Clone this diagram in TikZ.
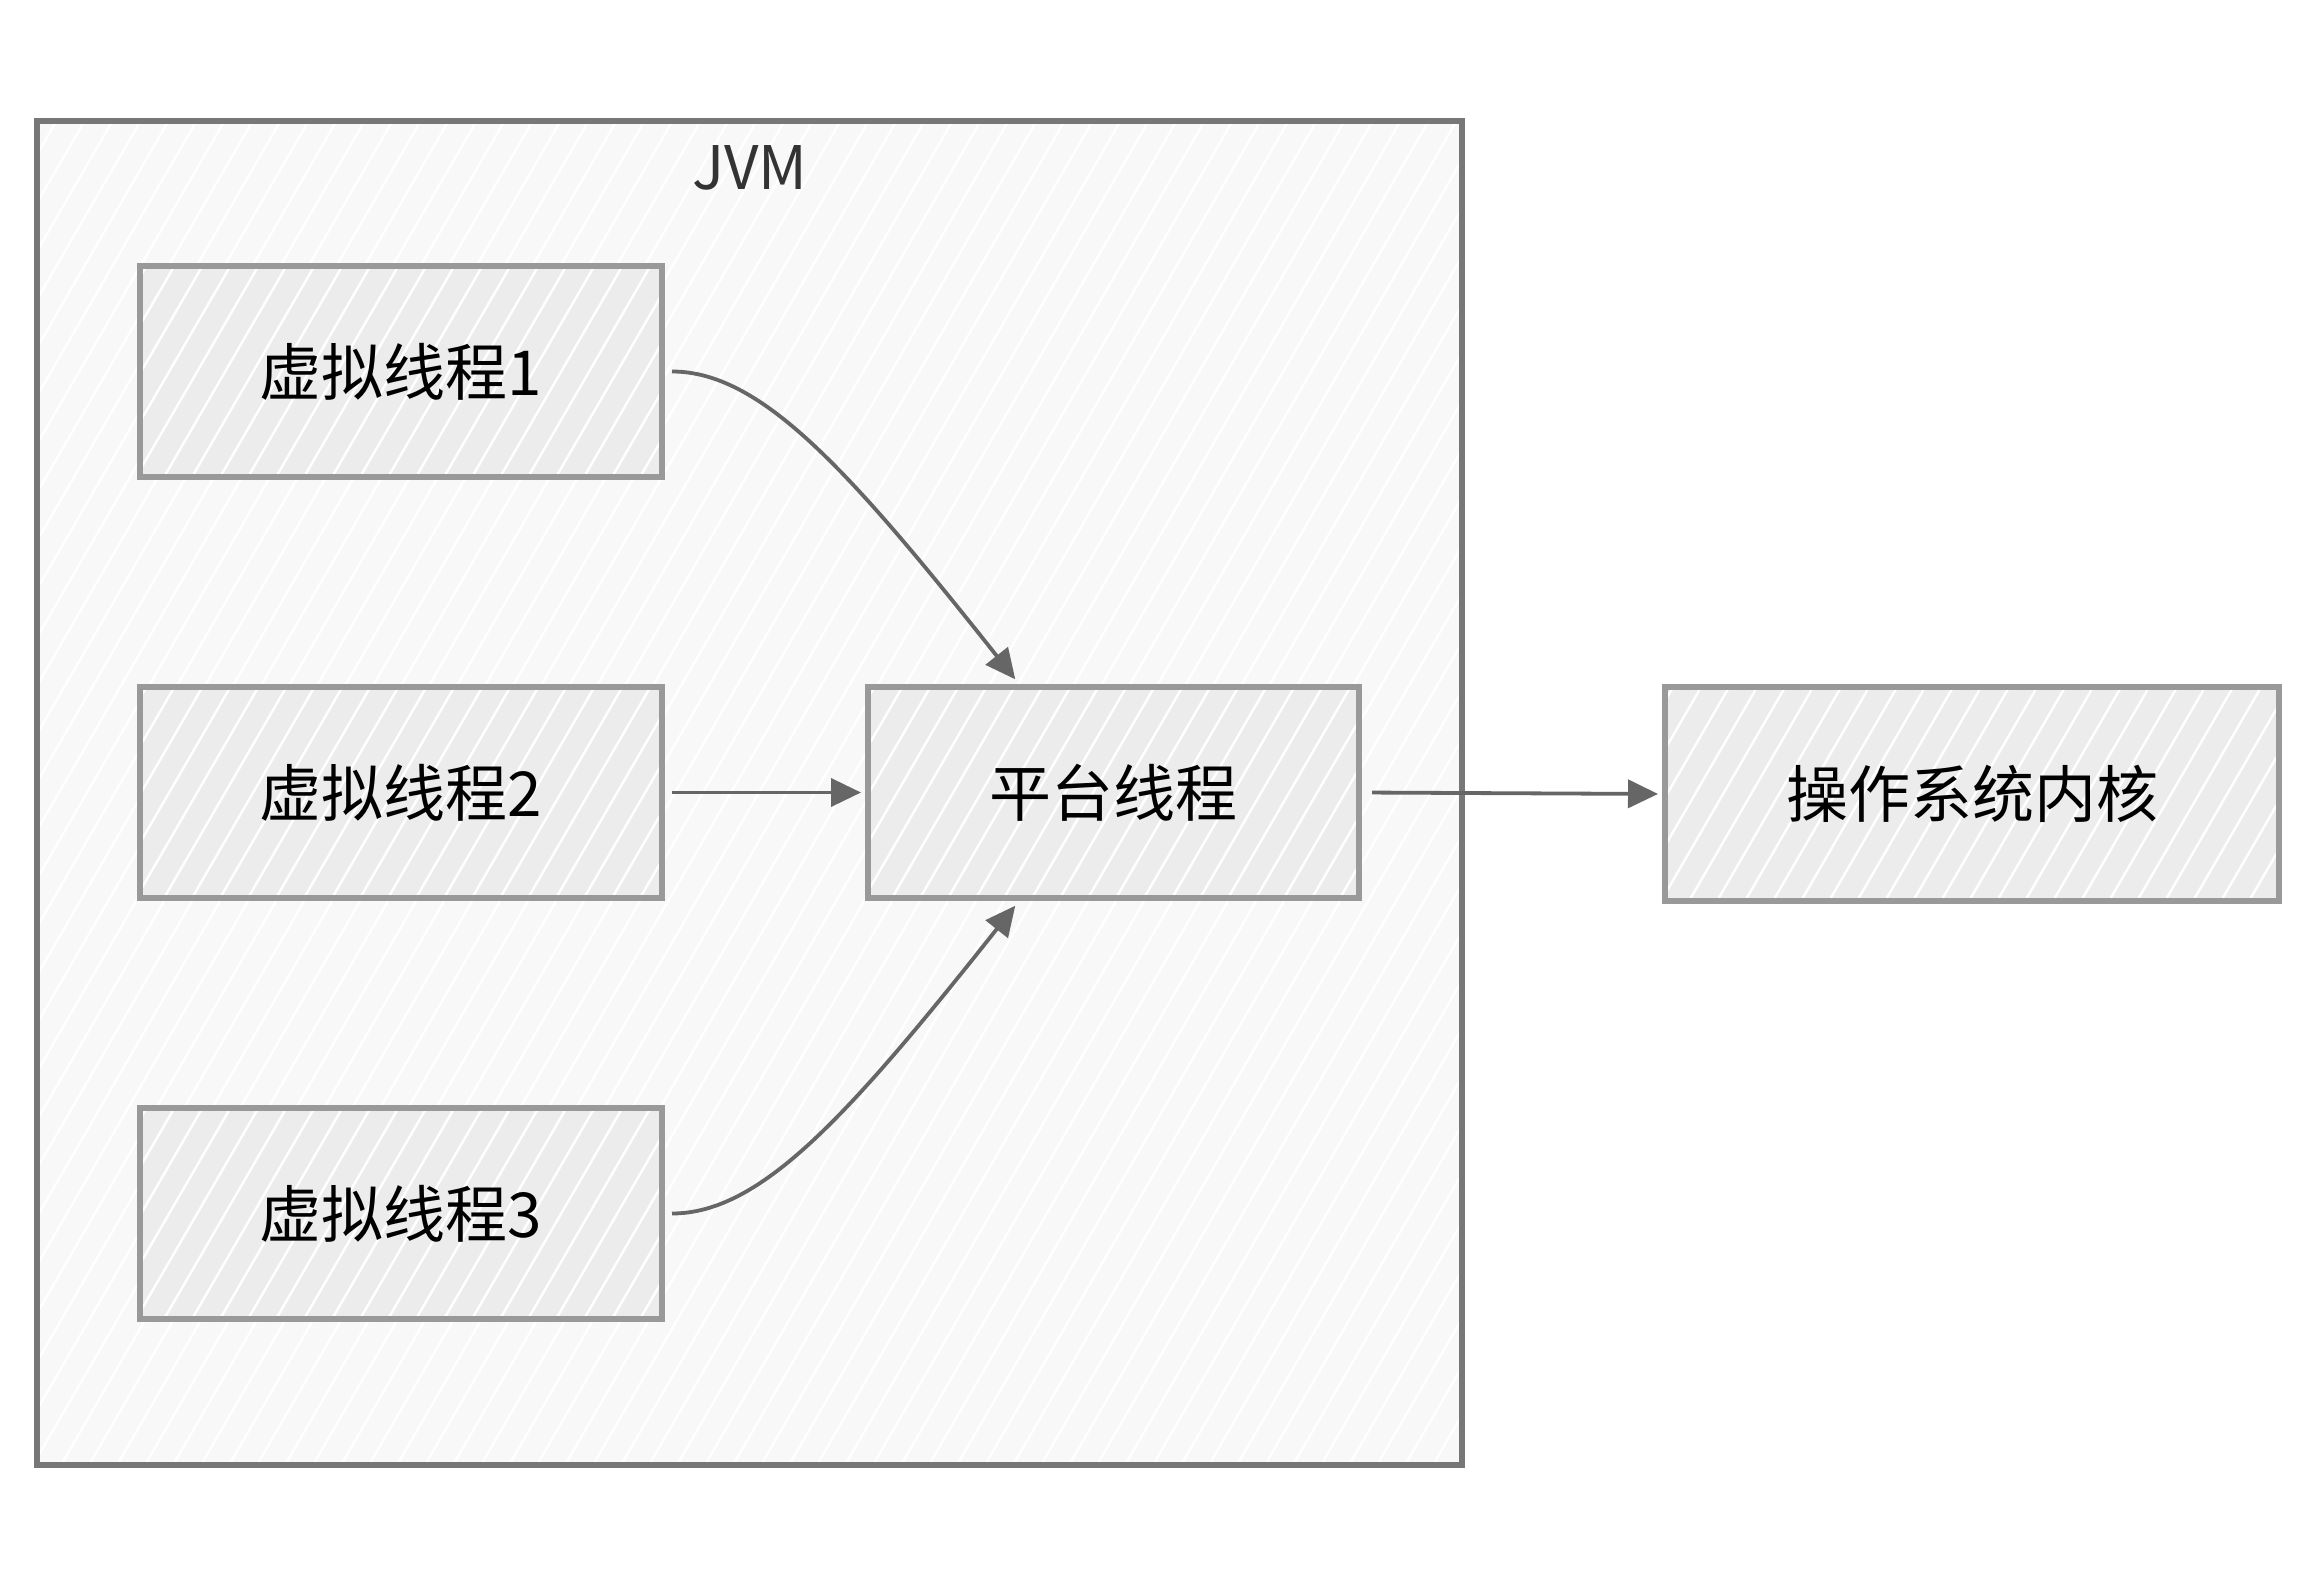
\documentclass[tikz,border=0pt]{standalone}
\usepackage{fontspec}
\setmainfont{Noto Sans CJK SC}
\usetikzlibrary{arrows.meta,calc}
\definecolor{boxfill}{HTML}{ECECEC}
\definecolor{jvmfill}{HTML}{F8F8F8}
\definecolor{boxline}{HTML}{999999}
\definecolor{jvmline}{HTML}{777777}
\definecolor{arrowc}{HTML}{666666}
\definecolor{jvmtext}{HTML}{333333}
\tikzset{
  hatch/.style={path picture={
    \foreach \i in {-900,-872,...,1500}{
      \draw[white,line width=1.2pt]
        ($(path picture bounding box.south west)+(\i,0)$) -- ++(870,-1500);}}},
  tbox/.style={draw=boxline, line width=3pt, fill=boxfill, hatch,
    inner sep=0pt, minimum height=105.5pt,
    font=\fontsize{31}{37}\selectfont},
  jvmbox/.style={draw=jvmline, line width=3pt, fill=jvmfill, hatch,
    inner sep=0pt, minimum width=712.5pt, minimum height=672pt},
  conn/.style={draw=arrowc, line width=1.9pt,
    -{Triangle[length=15pt,width=14pt]}},
}
\begin{document}
\begin{tikzpicture}[x=0.5pt,y=-0.5pt]
\useasboundingbox[fill=white] (0,0) rectangle (2316,1588);
% JVM container
\node[jvmbox] (jvm) at (749.5,793) {};
\node[font=\fontsize{30}{36}\selectfont, text=jvmtext] (jvmlabel) at (750,168) {JVM};
% boxes
\node[tbox, minimum width=261pt] (vt1) at (401,371.5) {虚拟线程1};
\node[tbox, minimum width=261pt] (vt2) at (401,792.5) {虚拟线程2};
\node[tbox, minimum width=261pt] (vt3) at (401,1213.5) {虚拟线程3};
\node[tbox, minimum width=245.5pt] (pt) at (1113.5,792.5) {平台线程};
\node[tbox, minimum width=307pt, minimum height=107pt] (os) at (1972,794) {操作系统内核};
% anchor points on the platform box
\coordinate (t1) at ([xshift=77pt]pt.north west);
\coordinate (t3) at ([xshift=77pt]pt.south west);
% connectors
\draw[conn, shorten <=3.5pt, shorten >=3pt]
  (vt1.east) .. controls ($(vt1.east)+(95,0)$) and ($(t1)+(-172,-217)$) .. (t1);
\draw[conn, shorten <=3.5pt, shorten >=3pt]
  (vt3.east) .. controls ($(vt3.east)+(95,0)$) and ($(t3)+(-172,217)$) .. (t3);
\draw[conn, shorten <=3.5pt, shorten >=2pt] (vt2.east) -- (pt.west);
\draw[conn, shorten <=5pt, shorten >=2pt] (pt.east) -- (os.west);
\end{tikzpicture}
\end{document}
